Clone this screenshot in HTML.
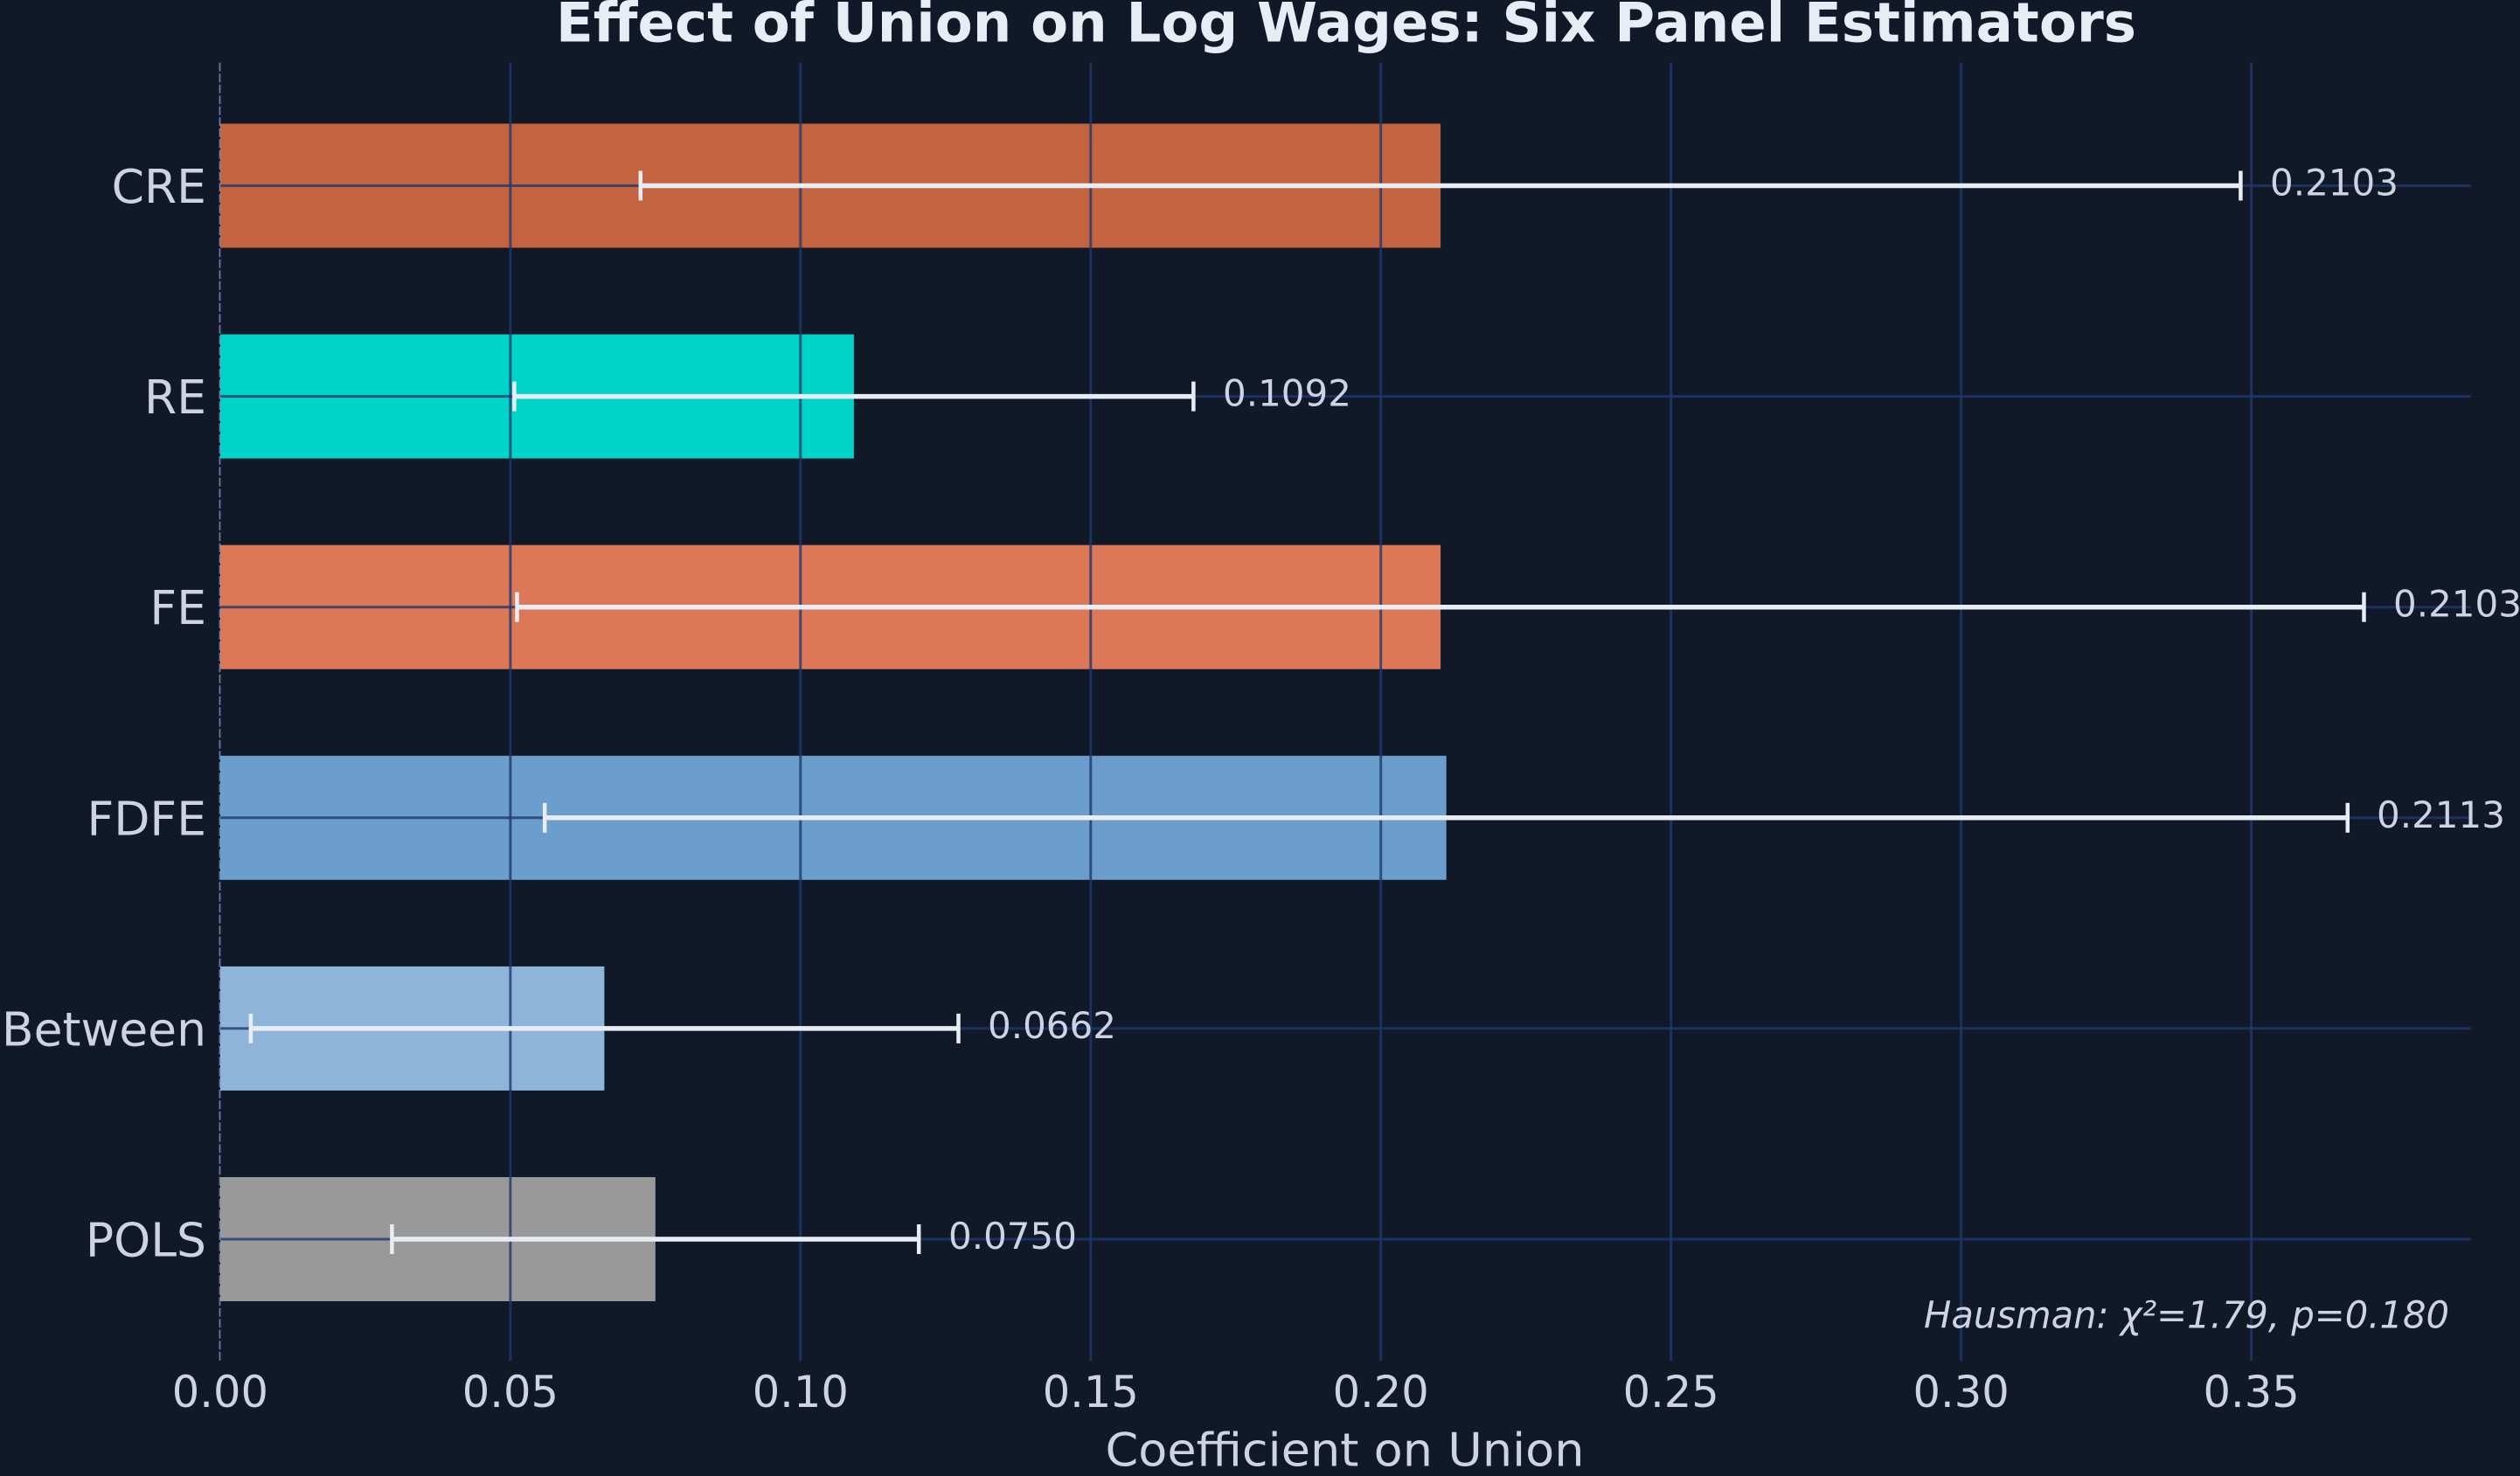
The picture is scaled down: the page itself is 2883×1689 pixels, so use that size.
<!DOCTYPE html>
<html>
<head>
<meta charset="utf-8">
<style>
  html, body { margin: 0; padding: 0; background: #111827; }
  svg { display: block; }
  text { font-family: "DejaVu Sans", "Liberation Sans", sans-serif; }
</style>
</head>
<body>
<svg xmlns="http://www.w3.org/2000/svg" width="2883" height="1689" viewBox="0 0 2883 1689">
  <rect x="0" y="0" width="2883" height="1689" fill="#111827"/>

  <!-- Bars -->
  <rect x="252" y="141.5" width="1396.1" height="142" fill="#c4633f"/>
  <rect x="252" y="382.6" width="724.9" height="142" fill="#00d4c8"/>
  <rect x="252" y="623.7" width="1396.1" height="142" fill="#dc7858"/>
  <rect x="252" y="864.8" width="1402.7" height="142" fill="#6b9dcd"/>
  <rect x="252" y="1105.9" width="439.4" height="142" fill="#8fb4da"/>
  <rect x="252" y="1347" width="497.8" height="142" fill="#999999"/>

  <!-- Grid lines (drawn over bars) -->
  <g stroke="#1e3a6e" stroke-opacity="0.8" stroke-width="3">
    <line x1="583.9" y1="71.7" x2="583.9" y2="1557.3"/>
    <line x1="915.8" y1="71.7" x2="915.8" y2="1557.3"/>
    <line x1="1247.8" y1="71.7" x2="1247.8" y2="1557.3"/>
    <line x1="1579.7" y1="71.7" x2="1579.7" y2="1557.3"/>
    <line x1="1911.7" y1="71.7" x2="1911.7" y2="1557.3"/>
    <line x1="2243.6" y1="71.7" x2="2243.6" y2="1557.3"/>
    <line x1="2575.6" y1="71.7" x2="2575.6" y2="1557.3"/>
    <line x1="252" y1="212.5" x2="2826.7" y2="212.5"/>
    <line x1="252" y1="453.6" x2="2826.7" y2="453.6"/>
    <line x1="252" y1="694.7" x2="2826.7" y2="694.7"/>
    <line x1="252" y1="935.8" x2="2826.7" y2="935.8"/>
    <line x1="252" y1="1176.9" x2="2826.7" y2="1176.9"/>
    <line x1="252" y1="1418" x2="2826.7" y2="1418"/>
  </g>

  <!-- Zero dashed line -->
  <line x1="251.5" y1="71.7" x2="251.5" y2="1557.3" stroke="#8a9acb" stroke-opacity="0.75" stroke-width="1.8" stroke-dasharray="10,2.5"/>

  <!-- Error bars -->
  <g stroke="#e8ecf4" stroke-width="5.5" fill="none">
    <line x1="732.8" y1="212.5" x2="2563.4" y2="212.5"/>
    <line x1="732.8" y1="195.5" x2="732.8" y2="229.5" stroke-width="4.5"/>
    <line x1="2563.4" y1="195.5" x2="2563.4" y2="229.5" stroke-width="4.5"/>

    <line x1="588.4" y1="453.6" x2="1365.4" y2="453.6"/>
    <line x1="588.4" y1="436.6" x2="588.4" y2="470.6" stroke-width="4.5"/>
    <line x1="1365.4" y1="436.6" x2="1365.4" y2="470.6" stroke-width="4.5"/>

    <line x1="591.5" y1="694.7" x2="2704.5" y2="694.7"/>
    <line x1="591.5" y1="677.7" x2="591.5" y2="711.7" stroke-width="4.5"/>
    <line x1="2704.5" y1="677.7" x2="2704.5" y2="711.7" stroke-width="4.5"/>

    <line x1="623.2" y1="935.8" x2="2685.8" y2="935.8"/>
    <line x1="623.2" y1="918.8" x2="623.2" y2="952.8" stroke-width="4.5"/>
    <line x1="2685.8" y1="918.8" x2="2685.8" y2="952.8" stroke-width="4.5"/>

    <line x1="286.9" y1="1176.9" x2="1096.5" y2="1176.9"/>
    <line x1="286.9" y1="1159.9" x2="286.9" y2="1193.9" stroke-width="4.5"/>
    <line x1="1096.5" y1="1159.9" x2="1096.5" y2="1193.9" stroke-width="4.5"/>

    <line x1="448.4" y1="1418" x2="1051.2" y2="1418"/>
    <line x1="448.4" y1="1401" x2="448.4" y2="1435" stroke-width="4.5"/>
    <line x1="1051.2" y1="1401" x2="1051.2" y2="1435" stroke-width="4.5"/>
  </g>

  <!-- Value labels -->
  <g fill="#cdd3e3" font-size="42">
    <text x="2597" y="223.5">0.2103</text>
    <text x="1399" y="464.6">0.1092</text>
    <text x="2738" y="705.7">0.2103</text>
    <text x="2719" y="946.8">0.2113</text>
    <text x="1130" y="1188">0.0662</text>
    <text x="1085" y="1429">0.0750</text>
  </g>

  <!-- Y tick labels -->
  <g fill="#cdd3e3" font-size="53.5" text-anchor="end">
    <text x="236" y="232">CRE</text>
    <text x="236" y="473.1">RE</text>
    <text x="236" y="714.2">FE</text>
    <text x="236" y="955.3">FDFE</text>
    <text x="236" y="1196.4">Between</text>
    <text x="236" y="1437.5">POLS</text>
  </g>

  <!-- X tick labels -->
  <g fill="#cdd3e3" font-size="49.5" text-anchor="middle">
    <text x="251.9" y="1610">0.00</text>
    <text x="583.9" y="1610">0.05</text>
    <text x="915.8" y="1610">0.10</text>
    <text x="1247.8" y="1610">0.15</text>
    <text x="1579.7" y="1610">0.20</text>
    <text x="1911.7" y="1610">0.25</text>
    <text x="2243.6" y="1610">0.30</text>
    <text x="2575.6" y="1610">0.35</text>
  </g>

  <!-- X axis label -->
  <text x="1538.5" y="1677.7" fill="#cdd3e3" font-size="52.7" text-anchor="middle" textLength="548" lengthAdjust="spacingAndGlyphs">Coefficient on Union</text>

  <!-- Hausman annotation -->
  <text x="2802" y="1519.3" fill="#cdd3e3" font-size="43" font-style="italic" text-anchor="end" textLength="601" lengthAdjust="spacingAndGlyphs">Hausman: χ²=1.79, p=0.180</text>

  <!-- Title -->
  <text x="1540" y="47.5" fill="#e8ecf4" font-size="62" font-weight="bold" text-anchor="middle" textLength="1808" lengthAdjust="spacingAndGlyphs">Effect of Union on Log Wages: Six Panel Estimators</text>
</svg>
</body>
</html>
